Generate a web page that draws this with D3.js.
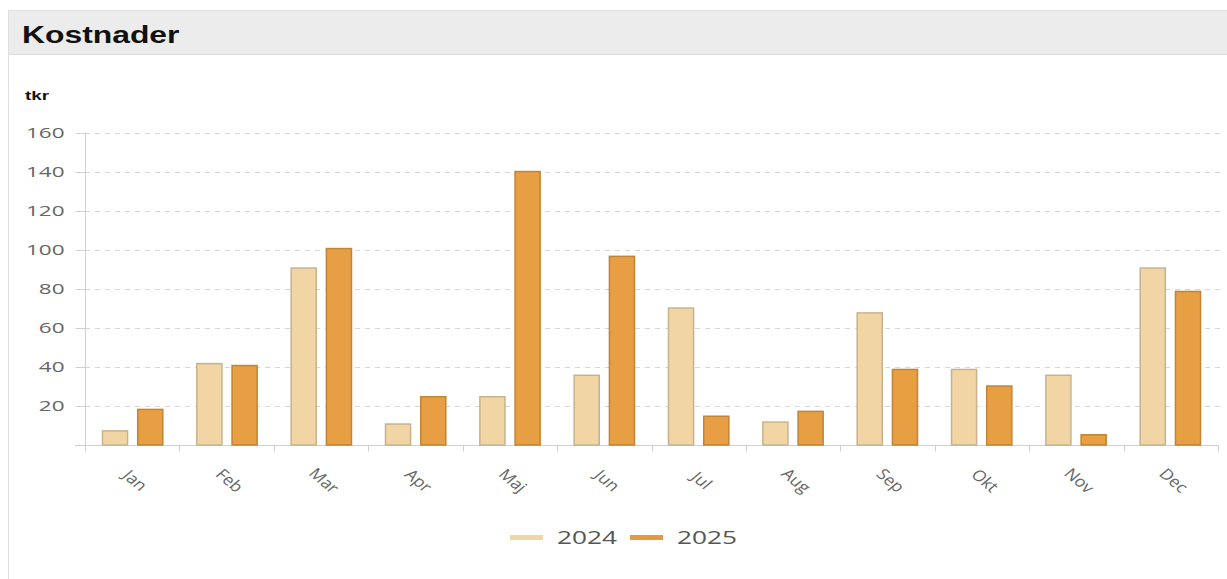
<!DOCTYPE html>
<html><head><meta charset="utf-8">
<script src="https://cdn.jsdelivr.net/npm/d3@7"></script>
<style>
html,body{margin:0;padding:0;background:#fff;}
svg{display:block;}
</style></head>
<body>
<svg id="c" width="1227" height="579"></svg>
<script>
const months = ["Jan","Feb","Mar","Apr","Maj","Jun","Jul","Aug","Sep","Okt","Nov","Dec"];
const seriesNames = ["2024","2025"];
const values2024 = [7.5, 42, 91, 11, 25, 36, 70.5, 12, 68, 39, 36, 91];
const values2025 = [18.5, 41, 101, 25, 140.5, 97, 15, 17.5, 39, 30.5, 5.5, 79];
const yTicks = [20, 40, 60, 80, 100, 120, 140, 160];
const fills = ["#f2d5a5", "#e89e42"];
const strokes = ["#c8b28e", "#c08536"];

const svg = d3.select("#c");
// card
svg.append("rect").attr("x",8.5).attr("y",10.5).attr("width",1230).attr("height",580)
  .attr("fill","#fff").attr("stroke","#dedede");
svg.append("rect").attr("x",9).attr("y",11).attr("width",1218).attr("height",43).attr("fill","#ececec");
svg.append("line").attr("x1",9).attr("x2",1227).attr("y1",54.5).attr("y2",54.5).attr("stroke","#dcdcdc");
svg.append("text").attr("transform","translate(22,43) scale(1.3,1)").text("Kostnader")
  .attr("font-family","Liberation Sans, Arial, sans-serif").attr("font-weight","bold")
  .attr("font-size",24.5).attr("fill","#111");
svg.append("text").attr("transform","translate(25,100) scale(1.45,1)").text("tkr")
  .attr("font-family","Liberation Sans, Arial, sans-serif").attr("font-weight","bold")
  .attr("font-size",13).attr("fill","#111");

const L = 85, R = 1218, T = 133, B = 445;
const x0 = d3.scaleBand().domain(months).range([L, R]).paddingInner(0.35).paddingOuter(0.18);
const x = d3.scaleBand().domain(months).range([L, R]).padding(0);
const x1 = d3.scaleBand().domain(seriesNames).range([0, x0.bandwidth()]).paddingInner(0.26);
const y = d3.scaleLinear().domain([0,160]).range([B, T]);

// grid
svg.append("g").selectAll("line").data(yTicks).join("line")
  .attr("x1", L).attr("x2", 1220)
  .attr("y1", d => Math.round(y(d))+0.5).attr("y2", d => Math.round(y(d))+0.5)
  .attr("stroke","#d6d6d6").attr("stroke-dasharray","5,5");

// y axis
const yAxis = svg.append("g").attr("transform",`translate(${L+0.5},0)`)
  .call(d3.axisLeft(y).tickValues([0].concat(yTicks)).tickSize(10).tickPadding(11)
    .tickFormat(d => d === 0 ? "" : d));
yAxis.select(".domain").attr("stroke","#cfcfcf").attr("d",`M0,${T}V${B}`);
yAxis.selectAll(".tick line").attr("stroke","#cfcfcf");
yAxis.selectAll(".tick text").attr("x",0).attr("transform","translate(-21,0) scale(1.5,1)")
  .attr("fill","#666").attr("font-size",15)
  .attr("font-family","Open Sans, sans-serif");

// x axis
const xAxis = svg.append("g").attr("transform",`translate(0,${B+0.5})`);
xAxis.append("line").attr("x1",L-10).attr("x2",R).attr("stroke","#cfcfcf");
const bounds = months.map(m => x(m)).concat([R]);
xAxis.selectAll("line.t").data(bounds).join("line").attr("class","t")
  .attr("x1",d=>Math.round(d)+0.5).attr("x2",d=>Math.round(d)+0.5).attr("y1",0).attr("y2",6)
  .attr("stroke","#cfcfcf");
xAxis.selectAll("text").data(months).join("text")
  .attr("transform", d => `translate(${x(d)+x.bandwidth()/2+3},${35}) scale(1.2,1) rotate(45)`)
  .attr("text-anchor","middle").attr("dy","0.35em")
  .attr("fill","#666").attr("font-size",15).attr("font-family","Open Sans, sans-serif")
  .text(d => d);

// bars
const series = [values2024, values2025];
const g = svg.append("g");
months.forEach((m, i) => {
  seriesNames.forEach((s, j) => {
    const v = series[j][i];
    g.append("rect")
      .attr("x", x0(m) + x1(s) + 0.5)
      .attr("y", y(v) + 0.5)
      .attr("width", x1.bandwidth() - 1)
      .attr("height", B - y(v) - 0.5)
      .attr("fill", fills[j]).attr("stroke", strokes[j]).attr("stroke-width", 1.5);
  });
});

// legend
const leg = svg.append("g");
const legX = [510, 630];
seriesNames.forEach((s, j) => {
  leg.append("rect").attr("x", legX[j]).attr("y", 535).attr("width", 33).attr("height", 5)
    .attr("fill", j === 0 ? fills[0] : "#e39a42");
  leg.append("text").attr("transform", `translate(${legX[j] + 47},544) scale(1.38,1)`).text(s)
    .attr("font-size", 19).attr("fill","#555").attr("font-family","Open Sans, sans-serif");
});
</script>
</body></html>
